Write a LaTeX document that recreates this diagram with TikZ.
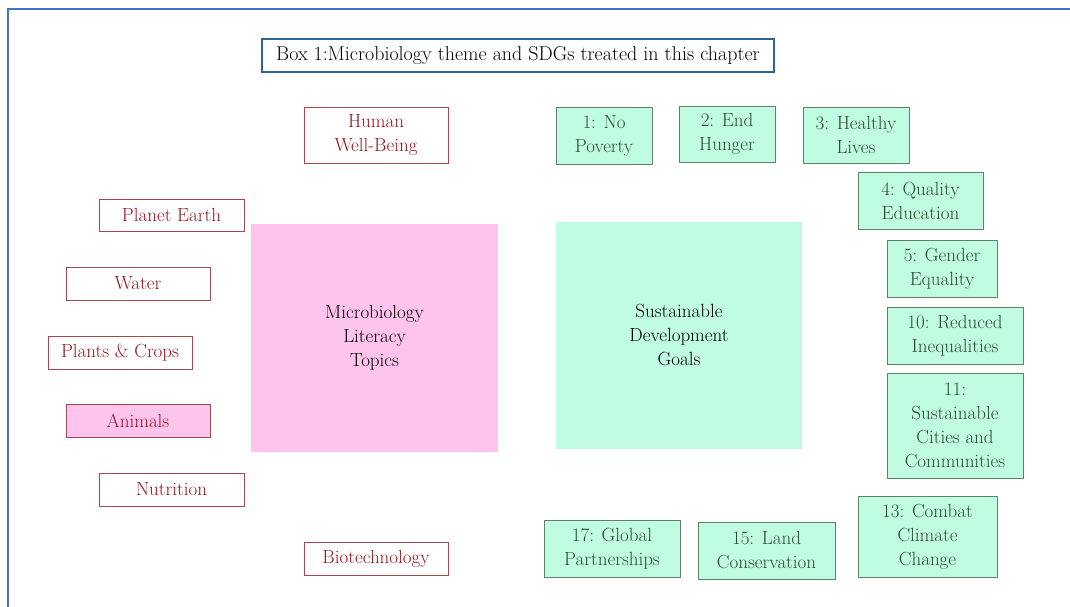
\documentclass[tikz,border=0pt]{standalone}
\usepackage{amsmath}
\usepackage{tikz}

\definecolor{frameblue}{RGB}{68,114,196}
\definecolor{titleline}{RGB}{45,100,150}
\definecolor{topicline}{RGB}{165,70,80}
\definecolor{topictext}{RGB}{150,20,30}
\definecolor{topicpink}{RGB}{255,196,238}
\definecolor{goalfill}{RGB}{192,252,226}
\definecolor{goalline}{RGB}{95,130,105}
\definecolor{goaltext}{RGB}{45,75,50}

\tikzset{
  topic/.style={draw=topicline, text=topictext, line width=0.8pt, inner sep=0pt, align=center, font=\fontsize{19}{24}\selectfont},
  goal/.style={draw=goalline, fill=goalfill, text=goaltext, line width=0.8pt, inner sep=0pt, align=center, font=\fontsize{19}{24}\selectfont},
  bigbox/.style={inner sep=0pt, align=center, font=\fontsize{19}{24}\selectfont}
}

\begin{document}
\begin{tikzpicture}[x=1pt,y=-1pt]
\useasboundingbox (0,0) rectangle (1070,607);

%Frame
\draw [frameblue, line width=2pt] (7.5,640) -- (7.5,9.5) -- (1100,9.5) ;

% Title Node
\node [draw=titleline, line width=1.2pt, inner sep=0pt, minimum width=512pt, minimum height=33pt, font=\fontsize{20}{24}\selectfont] (title) at (518,55.5) {Box 1:Microbiology theme and SDGs treated in this chapter};

%Big boxes
\node [bigbox, fill=topicpink, minimum width=247pt, minimum height=228pt] (mbl) at (374.5,338) {Microbiology\\Literacy\\Topics};
\node [bigbox, fill=goalfill, minimum width=246pt, minimum height=227pt] (sdg) at (679,335.5) {Sustainable\\Development\\Goals};

%Topics
\node [topic, minimum width=144pt, minimum height=56pt] (human) at (376,135) {Human\\Well-Being};
\node [topic, minimum width=145pt, minimum height=32pt] (planet) at (171.5,215) {Planet Earth};
\node [topic, minimum width=144pt, minimum height=33pt] (water) at (138,283.5) {Water};
\node [topic, minimum width=144pt, minimum height=33pt] (plants) at (120,352.5) {Plants \& Crops};
\node [topic, fill=topicpink, minimum width=144pt, minimum height=33pt] (animals) at (138,420.5) {Animals};
\node [topic, minimum width=145pt, minimum height=33pt] (nutrition) at (171.5,489.5) {Nutrition};
\node [topic, minimum width=144pt, minimum height=33pt] (biotech) at (376,558.5) {Biotechnology};

%Goals
\node [goal, minimum width=96pt, minimum height=57pt] (g1) at (604,135.5) {1: No\\Poverty};
\node [goal, minimum width=96pt, minimum height=56pt] (g2) at (727,134) {2: End\\Hunger};
\node [goal, minimum width=106pt, minimum height=56pt] (g3) at (856,135) {3: Healthy\\Lives};
\node [goal, minimum width=125pt, minimum height=57pt] (g4) at (920.5,200.5) {4: Quality\\Education};
\node [goal, minimum width=110pt, minimum height=57pt] (g5) at (942,268.5) {5: Gender\\Equality};
\node [goal, minimum width=136pt, minimum height=57pt] (g10) at (955,335.5) {10: Reduced\\Inequalities};
\node [goal, minimum width=136pt, minimum height=105pt] (g11) at (955,425.5) {11:\\Sustainable\\Cities and\\Communities};
\node [goal, minimum width=139pt, minimum height=81pt] (g13) at (927.5,536.5) {13: Combat\\Climate\\Change};
\node [goal, minimum width=137pt, minimum height=57pt] (g15) at (766.5,550.5) {15: Land\\Conservation};
\node [goal, minimum width=136pt, minimum height=57pt] (g17) at (612,548.5) {17: Global\\Partnerships};

\end{tikzpicture}
\end{document}
